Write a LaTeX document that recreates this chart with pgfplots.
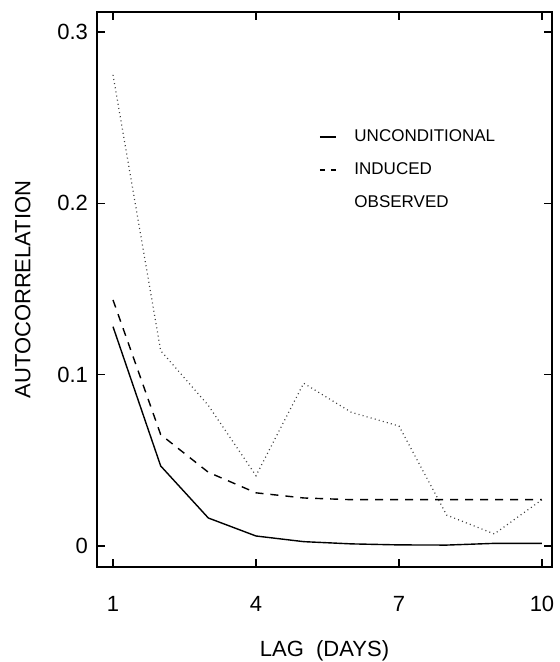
\documentclass[border=0pt]{standalone}
\usepackage{fontspec}
\setmainfont{Liberation Sans}
\usepackage{pgfplots}
\pgfplotsset{compat=1.18}

\begin{document}
\begin{tikzpicture}[x=1pt,y=1pt]
\useasboundingbox (-48.5,-47.5) rectangle (231,283.5);
\begin{axis}[
    at={(0,0)}, anchor=south west,
    scale only axis,
    width=227.5pt, height=277.5pt,
    xmin=0.664, xmax=10.21,
    ymin=-0.0123, ymax=0.3117,
    xtick={1,4,7,10},
    ytick={0,0.1,0.2,0.3},
    yticklabels={0,0.1,0.2,0.3},
    tick align=inside,
    major tick length=4pt,
    axis line style={line width=0.6pt},
    tick style={line width=0.6pt, black},
    /pgf/number format/assume math mode=true,
    ticklabel style={font=\fontsize{11}{13}\selectfont},
    xticklabel style={anchor=center, yshift=-18.5pt},
    yticklabel style={anchor=east, xshift=-1pt},
    xlabel={LAG\ \ (DAYS)},
    ylabel={AUTOCORRELATION},
    label style={font=\fontsize{11}{13}\selectfont},
    xlabel style={at={(axis description cs:0.5,-0.151)}, anchor=center},
    ylabel style={at={(axis description cs:-0.163,0.5)}, anchor=center},
    legend style={draw=none, fill=none, at={(0.474,0.803)}, anchor=north west,
        font=\fontsize{8.5}{10}\selectfont, row sep=5pt},
    legend cell align=left,
    legend image code/.code={\draw[#1] (0pt,0pt) -- (8pt,0pt); \path (15pt,0pt);},
]

% unconditional
\addplot[black, line width=0.7pt] coordinates {
    (1,0.128) (2,0.0467) (3,0.0163) (4,0.0058) (5,0.0025)
    (6,0.0012) (7,0.0006) (8,0.0005) (9,0.0015) (10,0.0015)
};
\addlegendentry{UNCONDITIONAL}

% induced
\addplot[black, line width=0.7pt, dash pattern=on 4pt off 3.5pt,
    legend image code/.code={\draw[black, line width=0.7pt, dash pattern=on 2.5pt off 3pt] (0pt,0pt) -- (8pt,0pt); \path (15pt,0pt);}] coordinates {
    (1,0.1436) (2,0.065) (3,0.043) (4,0.031) (5,0.028)
    (6,0.027) (7,0.027) (8,0.027) (9,0.027) (10,0.027)
};
\addlegendentry{INDUCED}

% observed
\addplot[black!75, line width=0.6pt, dash pattern=on 0.5pt off 1.6pt,
    legend image code/.code={\path (0pt,0pt); \path (15pt,0pt);}] coordinates {
    (1,0.275) (2,0.114) (3,0.082) (4,0.041) (5,0.095)
    (6,0.078) (7,0.070) (8,0.018) (9,0.007) (10,0.027)
};
\addlegendentry{OBSERVED}

\end{axis}
\end{tikzpicture}
\end{document}
